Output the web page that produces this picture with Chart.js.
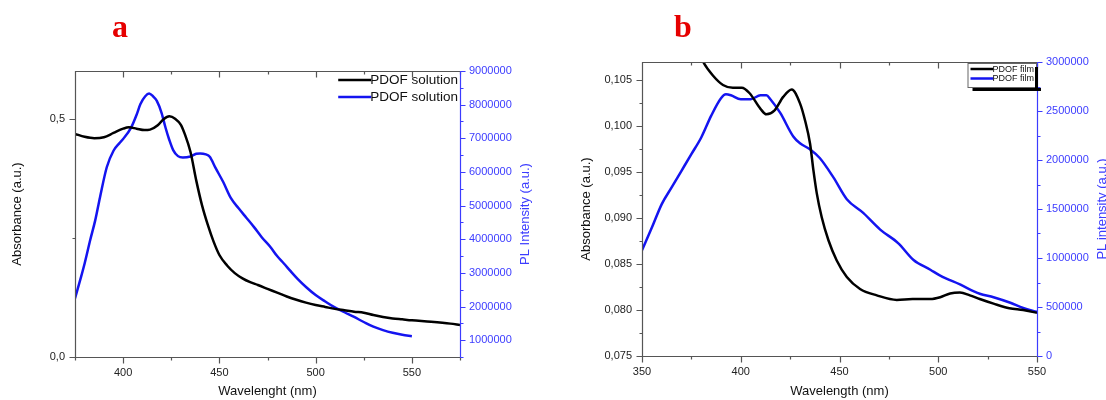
<!DOCTYPE html>
<html>
<head>
<meta charset="utf-8">
<title>PDOF absorbance and PL</title>
<script src="https://cdn.jsdelivr.net/npm/chart.js@4.4.1/dist/chart.umd.min.js"></script>
<style>
  body { margin: 0; background: #fff; }
  .wrap { position: relative; width: 1106px; height: 400px; overflow: hidden; }
  .panel { position: absolute; top: 0; width: 553px; height: 400px; }
  .tag { position: absolute; top: 10px; font: bold 32px "Liberation Serif", serif; line-height: 32px; color: #e60000; }
</style>
</head>
<body>
<div class="wrap">
  <div class="panel" style="left:0"><canvas id="chartA" width="553" height="400"></canvas></div>
  <div class="panel" style="left:553px"><canvas id="chartB" width="553" height="400"></canvas></div>
  <div class="tag" style="left:112px">a</div>
  <div class="tag" style="left:674px">b</div>
</div>
<script>
// panel a: solution
const wlAbsA = [375, 380, 385, 390, 395, 400, 403, 407, 411, 414, 418, 421, 424, 427, 430, 432, 435, 438, 441, 444, 447, 450, 454, 458, 462, 466, 470, 475, 480, 485, 490, 495, 500, 505, 510, 515, 520, 525, 530, 535, 540, 545, 550, 560, 570, 575];
const absA = [0.468, 0.462, 0.459, 0.461, 0.470, 0.479, 0.482, 0.479, 0.476, 0.477, 0.486, 0.499, 0.505, 0.500, 0.487, 0.468, 0.430, 0.370, 0.318, 0.277, 0.242, 0.214, 0.192, 0.176, 0.165, 0.157, 0.151, 0.143, 0.135, 0.127, 0.120, 0.114, 0.109, 0.105, 0.101, 0.098, 0.095, 0.093, 0.088, 0.084, 0.081, 0.079, 0.077, 0.074, 0.070, 0.067];
const wlPlA = [375, 378, 380, 383, 385.5, 388, 391.5, 395, 398, 400, 404, 407, 409, 411.5, 413.5, 415.5, 417.5, 420, 422, 424, 426, 428.5, 431, 435, 438, 440, 443, 445, 448, 452, 456, 460, 464, 468, 472, 476.5, 480, 483.5, 487, 490.5, 495, 500, 505, 509.5, 515, 520, 525, 530, 535, 540, 545, 550];
const plA = [2240000, 2850000, 3280000, 4000000, 4560000, 5250000, 6140000, 6630000, 6850000, 6980000, 7300000, 7700000, 8020000, 8250000, 8330000, 8250000, 8110000, 7750000, 7320000, 6950000, 6650000, 6470000, 6430000, 6460000, 6540000, 6550000, 6520000, 6450000, 6120000, 5700000, 5220000, 4920000, 4640000, 4360000, 4060000, 3770000, 3500000, 3280000, 3050000, 2830000, 2580000, 2340000, 2150000, 1990000, 1830000, 1690000, 1540000, 1400000, 1300000, 1220000, 1160000, 1120000];

// panel b: film
const wlAbsB = [378, 381, 386, 391, 396, 400.5, 404.5, 410, 413, 417, 421.5, 425.8, 430, 432.6, 435.1, 436.8, 438.5, 441, 444.4, 448.6, 453.7, 460.4, 468.9, 479, 487, 496, 501, 506, 511, 516, 521, 528, 536, 543, 550];
const absB = [0.1085, 0.1070, 0.1055, 0.1045, 0.1042, 0.1042, 0.1036, 0.1019, 0.1013, 0.1017, 0.1032, 0.1040, 0.1025, 0.1006, 0.0981, 0.0952, 0.0927, 0.0901, 0.0876, 0.0854, 0.0836, 0.0823, 0.0816, 0.0811, 0.0812, 0.0812, 0.0814, 0.0818, 0.0819, 0.0816, 0.0812, 0.0807, 0.0802, 0.0800, 0.0797];
const wlPlB = [350, 355, 360, 365, 370, 375, 380, 385, 390, 392.5, 395, 400, 405, 410, 413, 415, 420, 426.6, 430, 435, 440, 447, 453.7, 462, 470.6, 479.8, 487.5, 496, 501, 511, 521, 528, 536.5, 543, 550];
const plB = [1080000, 1310000, 1550000, 1720000, 1890000, 2060000, 2230000, 2450000, 2630000, 2670000, 2660000, 2620000, 2620000, 2660000, 2660000, 2620000, 2480000, 2240000, 2170000, 2110000, 2020000, 1820000, 1600000, 1460000, 1290000, 1150000, 980000, 880000, 820000, 730000, 635000, 600000, 543000, 490000, 450000];

// tick labels
const xTicksA = [400, 450, 500, 550];
const yTicksA = [0, 0.5];
const y1TicksA = [1000000, 2000000, 3000000, 4000000, 5000000, 6000000, 7000000, 8000000, 9000000];
const xTicksB = [350, 400, 450, 500, 550];
const yTicksB = [0.075, 0.080, 0.085, 0.090, 0.095, 0.100, 0.105];
const y1TicksB = [0, 500000, 1000000, 1500000, 2000000, 2500000, 3000000];

const BLUE = '#1414f0';
const AXBLUE = '#3c3cff';
const FRAME = '#555';

Chart.defaults.font.family = '"Liberation Sans", Arial, sans-serif';
Chart.defaults.color = '#222';

function steps(scale, major, minor) {
  const out = [];
  for (let k = Math.ceil(scale.min / minor - 1e-6); k * minor <= scale.max + minor * 1e-6; k++) {
    const v = k * minor;
    out.push([v, Math.abs(v / major - Math.round(v / major)) < 1e-6]);
  }
  return out;
}

// frame, major/minor ticks, right axis title
const frameTicks = {
  id: 'frameTicks',
  afterDatasetsDraw(chart, args, o) {
    const ctx = chart.ctx, a = chart.chartArea;
    const sx = chart.scales.x, sy = chart.scales.y, sy1 = chart.scales.y1;
    const L = Math.round(a.left) + 0.5, R = Math.round(a.right) + 0.5;
    const T = Math.round(a.top) + 0.5, B = Math.round(a.bottom) + 0.5;
    ctx.save();
    ctx.lineWidth = 1.2;
    ctx.strokeStyle = FRAME;
    ctx.beginPath();
    ctx.moveTo(R, T); ctx.lineTo(L, T); ctx.lineTo(L, B); ctx.lineTo(R, B);
    steps(sx, o.x[0], o.x[1]).forEach(([v, major]) => {
      const px = Math.round(sx.getPixelForValue(v)) + 0.5;
      const len = major ? 6 : 3;
      ctx.moveTo(px, B); ctx.lineTo(px, B + len);
      ctx.moveTo(px, T); ctx.lineTo(px, T + len);
    });
    steps(sy, o.y[0], o.y[1]).forEach(([v, major]) => {
      const py = Math.round(sy.getPixelForValue(v)) + 0.5;
      ctx.moveTo(L, py); ctx.lineTo(L - (major ? 6 : 3), py);
    });
    ctx.stroke();
    ctx.strokeStyle = AXBLUE;
    ctx.beginPath();
    ctx.moveTo(R, T); ctx.lineTo(R, B);
    steps(sy1, o.y1[0], o.y1[1]).forEach(([v, major]) => {
      const py = Math.round(sy1.getPixelForValue(v)) + 0.5;
      ctx.moveTo(R, py); ctx.lineTo(R + (major ? 5 : 3), py);
    });
    ctx.stroke();
    ctx.fillStyle = AXBLUE;
    ctx.font = '13px "Liberation Sans", Arial, sans-serif';
    ctx.textAlign = 'center';
    ctx.textBaseline = 'middle';
    ctx.translate(a.right + 65, (a.top + a.bottom) / 2);
    ctx.rotate(-Math.PI / 2);
    ctx.fillText(o.title1, 0, 0);
    ctx.restore();
  }
};

// legend inside the top right corner
const cornerLegend = {
  id: 'cornerLegend',
  afterDraw(chart, args, o) {
    const ctx = chart.ctx, a = chart.chartArea;
    const sets = chart.data.datasets;
    ctx.save();
    ctx.font = o.size + 'px "Liberation Sans", Arial, sans-serif';
    ctx.textBaseline = 'middle';
    const textW = Math.max(...sets.map(d => ctx.measureText(d.label).width));
    const right = a.right - o.inset;
    const textX = right - textW;
    if (o.box) {
      const left = textX - o.line - 3, top = a.top + 1, bottom = a.top + o.first + o.row * sets.length - 1;
      ctx.fillStyle = '#fff';
      ctx.fillRect(left, top, right + 2 - left, bottom - top);
      ctx.strokeStyle = '#666';
      ctx.lineWidth = 1;
      ctx.strokeRect(left + 0.5, top + 0.5, right + 2 - left, bottom - top);
      ctx.fillStyle = '#000';
      ctx.fillRect(left + 5, bottom + 1, right + 2 - left, 3);
      ctx.fillRect(right + 1, top + 4, 3, bottom - top);
    }
    sets.forEach((d, i) => {
      const y = a.top + o.first + i * o.row;
      ctx.strokeStyle = d.borderColor;
      ctx.lineWidth = o.lw;
      ctx.beginPath();
      ctx.moveTo(textX - o.line, y); ctx.lineTo(textX + 1, y);
      ctx.stroke();
      ctx.fillStyle = '#111';
      ctx.fillText(d.label, textX, y + 0.5);
    });
    ctx.restore();
  }
};

function pts(xs, ys) {
  return xs.map((x, i) => ({ x: x, y: ys[i] }));
}

function makeChart(id, p) {
  return new Chart(document.getElementById(id), {
    type: 'line',
    data: {
      datasets: [
        { label: p.label, data: pts(p.wlAbs, p.abs), yAxisID: 'y', borderColor: '#000', borderWidth: 2.5 },
        { label: p.label, data: pts(p.wlPl, p.pl), yAxisID: 'y1', borderColor: BLUE, borderWidth: 2.5 }
      ]
    },
    options: {
      responsive: false,
      animation: false,
      elements: { point: { radius: 0 }, line: { cubicInterpolationMode: 'monotone' } },
      layout: { padding: { left: p.padLeft, right: 0, top: p.top, bottom: 0 } },
      scales: {
        x: {
          type: 'linear', min: p.xMin, max: p.xMax,
          afterBuildTicks: s => { s.ticks = p.xTicks.map(v => ({ value: v })); },
          afterFit: s => { s.height = 400 - p.bottom; },
          grid: { display: false, drawTicks: true, tickLength: 6 },
          border: { display: false },
          ticks: { font: { size: 11 }, padding: 3, maxRotation: 0, callback: v => String(v) },
          title: { display: true, text: p.xTitle, font: { size: 13 }, color: '#111', padding: { top: 0, bottom: 1 } }
        },
        y: {
          type: 'linear', position: 'left', min: p.yMin, max: p.yMax,
          afterBuildTicks: s => { s.ticks = p.yTicks.map(v => ({ value: v })); },
          afterFit: s => { s.width = p.yWidth; },
          grid: { display: false, drawTicks: true, tickLength: 6 },
          border: { display: false },
          ticks: { font: { size: 11 }, padding: 4, callback: v => v.toFixed(p.dec).replace('.', ',') },
          title: { display: true, text: 'Absorbance (a.u.)', font: { size: 13 }, color: '#111', padding: { top: 4, bottom: 0 } }
        },
        y1: {
          type: 'linear', position: 'right', min: p.y1Min, max: p.y1Max,
          afterBuildTicks: s => { s.ticks = p.y1Ticks.map(v => ({ value: v })); },
          afterFit: s => { s.width = 553 - p.right; },
          grid: { display: false, drawTicks: true, tickLength: 5 },
          border: { display: false },
          ticks: { font: { size: 11 }, color: AXBLUE, padding: 4, callback: v => String(v) }
        }
      },
      plugins: {
        legend: { display: false },
        tooltip: { enabled: false },
        frameTicks: { x: p.xStep, y: p.yStep, y1: p.y1Step, title1: p.y1Title },
        cornerLegend: p.legend
      }
    },
    plugins: [frameTicks, cornerLegend]
  });
}

makeChart('chartA', {
  label: 'PDOF solution', wlAbs: wlAbsA, abs: absA, wlPl: wlPlA, pl: plA,
  xMin: 375, xMax: 575, yMin: 0, yMax: 0.6, y1Min: 500000, y1Max: 9000000,
  xTicks: xTicksA, yTicks: yTicksA, y1Ticks: y1TicksA, dec: 1,
  xStep: [50, 25], yStep: [0.5, 0.25], y1Step: [1000000, 500000],
  padLeft: 6, yWidth: 69, right: 460, top: 71, bottom: 357,
  xTitle: 'Wavelenght (nm)', y1Title: 'PL Intensity (a.u.)',
  legend: { size: 13.5, first: 9, row: 17, line: 32, inset: 2, lw: 2.5, box: false }
});

makeChart('chartB', {
  label: 'PDOF film', wlAbs: wlAbsB, abs: absB, wlPl: wlPlB, pl: plB,
  xMin: 350, xMax: 550, yMin: 0.075, yMax: 0.107, y1Min: 0, y1Max: 3000000,
  xTicks: xTicksB, yTicks: yTicksB, y1Ticks: y1TicksB, dec: 3,
  xStep: [50, 25], yStep: [0.005, 0.0025], y1Step: [500000, 250000],
  padLeft: 22, yWidth: 67, right: 484, top: 62, bottom: 356,
  xTitle: 'Wavelength (nm)', y1Title: 'PL intensity (a.u.)',
  legend: { size: 9, first: 7, row: 9.5, line: 22, inset: 3, lw: 2.5, box: true }
});
</script>
</body>
</html>
